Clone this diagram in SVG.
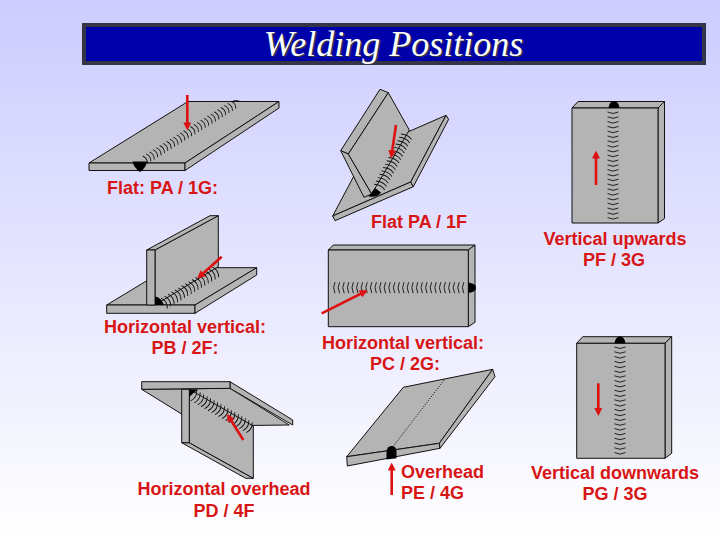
<svg xmlns="http://www.w3.org/2000/svg" width="720" height="540" viewBox="0 0 720 540">
<defs>
<linearGradient id="bg" x1="0" y1="0" x2="0" y2="1">
<stop offset="0" stop-color="#ccccff"/>
<stop offset="1" stop-color="#ffffff"/>
</linearGradient>
<marker id="ah" viewBox="0 0 10 10" refX="7" refY="5" markerWidth="8" markerHeight="8" markerUnits="userSpaceOnUse" orient="auto">
<path d="M0,0 L10,5 L0,10 z" fill="#dd1111"/>
</marker>
</defs>
<style>
.pl{fill:#b4b4b4;stroke:#111;stroke-width:1;stroke-linejoin:round}
.rp{fill:none;stroke:#111;stroke-width:0.9}
.bl{fill:#000}
.ar{stroke:#dd1111;stroke-width:2.6;fill:none;marker-end:url(#ah)}
.lb{font-family:"Liberation Sans",Arial,sans-serif;font-weight:bold;font-size:18px;fill:#d81515}
.mid{text-anchor:middle}
</style>
<rect x="0" y="0" width="720" height="540" fill="url(#bg)"/>

<g id="title">
<rect x="84" y="25" width="620" height="38" fill="#0000aa" stroke="#343446" stroke-width="4"/>
<text x="395" y="57" text-anchor="middle" font-family="'Liberation Serif','Times New Roman',serif" font-style="italic" font-size="36" fill="#333344">Welding Positions</text>
<text x="393.5" y="55.5" text-anchor="middle" font-family="'Liberation Serif','Times New Roman',serif" font-style="italic" font-size="36" fill="#ffffff">Welding Positions</text>
</g>

<g id="flat-1g">
<polygon class="pl" points="89,163 185,163 279,101.5 188,101.5"/>
<polygon class="pl" points="89,163 185,163 185,170.5 89,170.5"/>
<polygon class="pl" points="185,163 279,101.5 279,108 185,170.5"/>
<path class="rp" transform="translate(140,163) rotate(-31.8)" d="M6,-4.5 q3,4.5 0,9 m4,-9 q3,4.5 0,9 m4,-9 q3,4.5 0,9 m4,-9 q3,4.5 0,9 m4,-9 q3,4.5 0,9 m4,-9 q3,4.5 0,9 m4,-9 q3,4.5 0,9 m4,-9 q3,4.5 0,9 m4,-9 q3,4.5 0,9 m4,-9 q3,4.5 0,9 m4,-9 q3,4.5 0,9 m4,-9 q3,4.5 0,9 m4,-9 q3,4.5 0,9 m4,-9 q3,4.5 0,9 m4,-9 q3,4.5 0,9 m4,-9 q3,4.5 0,9 m4,-9 q3,4.5 0,9 m4,-9 q3,4.5 0,9 m4,-9 q3,4.5 0,9 m4,-9 q3,4.5 0,9 m4,-9 q3,4.5 0,9 m4,-9 q3,4.5 0,9 m4,-9 q3,4.5 0,9 m4,-9 q3,4.5 0,9 m4,-9 q3,4.5 0,9 m4,-9 q3,4.5 0,9 m4,-9 q3,4.5 0,9"/>
<path class="bl" d="M132.5,161.5 L147,161.5 Q146,168 140,172 Q134,168 132.5,161.5 Z"/>
<path class="bl" d="M231,101.5 Q236,99 241,101.5 Z"/>
<line class="ar" x1="187.3" y1="95" x2="187.3" y2="128"/>
<text class="lb" x="107" y="194">Flat: PA / 1G:</text>
</g>

<g id="flat-1f">
<polygon class="pl" points="332.7,216 410.7,182 446,115.3 368,149.3"/>
<polygon class="pl" points="332.7,216 410.7,182 413.3,186.7 335,220.7"/>
<polygon class="pl" points="410.7,182 446,115.3 448.7,119.3 413.3,186.7"/>
<polygon class="pl" points="340.7,150.7 380,89.3 388.3,92.7 348.3,154"/>
<polygon class="pl" points="340.7,150.7 348.3,154 371.7,194 364,197.3"/>
<polygon class="pl" points="348.3,154 388.3,92.7 409.3,130 371.7,194"/>
<path class="rp" transform="translate(374,191) rotate(-62)" d="M6,-3 q3,6 0,12 m3.8,-12 q3,6 0,12 m3.8,-12 q3,6 0,12 m3.8,-12 q3,6 0,12 m3.8,-12 q3,6 0,12 m3.8,-12 q3,6 0,12 m3.8,-12 q3,6 0,12 m3.8,-12 q3,6 0,12 m3.8,-12 q3,6 0,12 m3.8,-12 q3,6 0,12 m3.8,-12 q3,6 0,12 m3.8,-12 q3,6 0,12 m3.8,-12 q3,6 0,12 m3.8,-12 q3,6 0,12 m3.8,-12 q3,6 0,12 m3.8,-12 q3,6 0,12"/>
<path class="bl" d="M368.5,196.5 L375,188 L381,192.5 Q378,197.5 368.5,196.5 Z"/>
<line class="ar" x1="396" y1="125" x2="391.4" y2="156"/>
<text class="lb" x="371" y="228">Flat PA / 1F</text>
</g>

<g id="vertical-up-3g">
<polygon class="pl" points="572,108 578,101.5 664.5,101.5 658,108"/>
<polygon class="pl" points="658,108 664.5,101.5 664.5,218.5 658,223"/>
<rect class="pl" x="572" y="108" width="86" height="115"/>
<path class="rp" d="M607.5,112 q5.5,3 11,0 m-11,4.8 q5.5,3 11,0 m-11,4.8 q5.5,3 11,0 m-11,4.8 q5.5,3 11,0 m-11,4.8 q5.5,3 11,0 m-11,4.8 q5.5,3 11,0 m-11,4.8 q5.5,3 11,0 m-11,4.8 q5.5,3 11,0 m-11,4.8 q5.5,3 11,0 m-11,4.8 q5.5,3 11,0 m-11,4.8 q5.5,3 11,0 m-11,4.8 q5.5,3 11,0 m-11,4.8 q5.5,3 11,0 m-11,4.8 q5.5,3 11,0 m-11,4.8 q5.5,3 11,0 m-11,4.8 q5.5,3 11,0 m-11,4.8 q5.5,3 11,0 m-11,4.8 q5.5,3 11,0 m-11,4.8 q5.5,3 11,0 m-11,4.8 q5.5,3 11,0 m-11,4.8 q5.5,3 11,0 m-11,4.8 q5.5,3 11,0 m-11,4.8 q5.5,3 11,0"/>
<path class="bl" d="M608.5,108 Q609.5,101 614,101 Q618.5,101 619.5,108 Z"/>
<line class="ar" x1="596" y1="185" x2="596" y2="153"/>
<text class="lb mid" x="615" y="245">Vertical upwards</text>
<text class="lb mid" x="614" y="266">PF / 3G</text>
</g>

<g id="horizontal-2f">
<polygon class="pl" points="106.7,305 195,305 256.7,267.7 168.3,267.7"/>
<polygon class="pl" points="106.7,305 195,305 195,313.3 106.7,313.3"/>
<polygon class="pl" points="195,305 256.7,267.7 256.7,275 195,313.3"/>
<polygon class="pl" points="155,250 218.3,215.7 218.3,266.7 155,305"/>
<polygon class="pl" points="146.7,250 210,215.7 218.3,215.7 155,250"/>
<rect class="pl" x="146.7" y="250" width="8.3" height="55"/>
<path class="rp" transform="translate(157,303) rotate(-31.2)" d="M6,-2 q4,6 0,12 m4,-12 q4,6 0,12 m4,-12 q4,6 0,12 m4,-12 q4,6 0,12 m4,-12 q4,6 0,12 m4,-12 q4,6 0,12 m4,-12 q4,6 0,12 m4,-12 q4,6 0,12 m4,-12 q4,6 0,12 m4,-12 q4,6 0,12 m4,-12 q4,6 0,12 m4,-12 q4,6 0,12 m4,-12 q4,6 0,12 m4,-12 q4,6 0,12 m4,-12 q4,6 0,12 m4,-12 q4,6 0,12"/>
<path class="bl" d="M155,305 L155,296.5 Q161,297 164,305 Z"/>
<line class="ar" x1="221.7" y1="256.7" x2="199" y2="277"/>
<text class="lb mid" x="185" y="333">Horizontal vertical:</text>
<text class="lb mid" x="185" y="354">PB / 2F:</text>
</g>

<g id="horizontal-2g">
<polygon class="pl" points="328.3,250 333.3,245 475,245 468.3,250"/>
<polygon class="pl" points="468.3,250 475,245 475,322.3 468.3,326.7"/>
<rect class="pl" x="328.3" y="250" width="140" height="76.7"/>
<path class="rp" d="M335,282.2 q-2.8,5.5 0,11 m4.6,-11 q-2.8,5.5 0,11 m4.6,-11 q-2.8,5.5 0,11 m4.6,-11 q-2.8,5.5 0,11 m4.6,-11 q-2.8,5.5 0,11 m4.6,-11 q-2.8,5.5 0,11 m4.6,-11 q-2.8,5.5 0,11 m4.6,-11 q-2.8,5.5 0,11 m4.6,-11 q-2.8,5.5 0,11 m4.6,-11 q-2.8,5.5 0,11 m4.6,-11 q-2.8,5.5 0,11 m4.6,-11 q-2.8,5.5 0,11 m4.6,-11 q-2.8,5.5 0,11 m4.6,-11 q-2.8,5.5 0,11 m4.6,-11 q-2.8,5.5 0,11 m4.6,-11 q-2.8,5.5 0,11 m4.6,-11 q-2.8,5.5 0,11 m4.6,-11 q-2.8,5.5 0,11 m4.6,-11 q-2.8,5.5 0,11 m4.6,-11 q-2.8,5.5 0,11 m4.6,-11 q-2.8,5.5 0,11 m4.6,-11 q-2.8,5.5 0,11 m4.6,-11 q-2.8,5.5 0,11 m4.6,-11 q-2.8,5.5 0,11 m4.6,-11 q-2.8,5.5 0,11 m4.6,-11 q-2.8,5.5 0,11 m4.6,-11 q-2.8,5.5 0,11 m4.6,-11 q-2.8,5.5 0,11 m4.6,-11 q-2.8,5.5 0,11"/>
<path class="bl" d="M468.3,282.5 Q476,283.5 476,287.7 Q476,292 468.3,293 Z"/>
<line class="ar" x1="321.7" y1="313.3" x2="365.5" y2="291.4"/>
<text class="lb mid" x="403" y="349">Horizontal vertical:</text>
<text class="lb mid" x="405" y="370">PC / 2G:</text>
</g>

<g id="overhead-4f">
<polygon class="pl" points="141.7,389.3 230,388.3 289.3,425 201,426"/>
<polygon class="pl" points="230,381.7 292.7,420 292.7,425 230,388.3"/>
<polygon class="pl" points="141.7,381.7 230,381.7 230,388.3 141.7,389.3"/>
<polygon class="pl" points="181.7,442.7 189.3,442.7 253.3,478.3 245.7,478.3"/>
<polygon class="pl" points="189.3,389.3 253.3,426 253.3,478.3 189.3,442.7"/>
<rect class="pl" x="181.7" y="389.3" width="7.6" height="53.4"/>
<path class="rp" transform="translate(190,390) rotate(29.8)" d="M6,-3 q4,6 0,12 m4,-12 q4,6 0,12 m4,-12 q4,6 0,12 m4,-12 q4,6 0,12 m4,-12 q4,6 0,12 m4,-12 q4,6 0,12 m4,-12 q4,6 0,12 m4,-12 q4,6 0,12 m4,-12 q4,6 0,12 m4,-12 q4,6 0,12 m4,-12 q4,6 0,12 m4,-12 q4,6 0,12 m4,-12 q4,6 0,12 m4,-12 q4,6 0,12 m4,-12 q4,6 0,12 m4,-12 q4,6 0,12 m4,-12 q4,6 0,12"/>
<path class="bl" d="M189.3,389.3 L198.5,389.4 Q194,391.5 189.3,397 Z"/>
<line class="ar" x1="243.3" y1="440" x2="228.3" y2="416"/>
<text class="lb mid" x="224" y="495">Horizontal overhead</text>
<text class="lb mid" x="224" y="517">PD / 4F</text>
</g>

<g id="overhead-4g">
<polygon class="pl" points="346.7,456.7 439.3,443.3 492.7,369.3 403.3,387.3"/>
<polygon class="pl" points="346.7,456.7 439.3,443.3 440,448.3 347.3,466"/>
<polygon class="pl" points="439.3,443.3 492.7,369.3 495,376.7 440,448.3"/>
<line x1="390" y1="450.5" x2="445" y2="378.9" stroke="#222" stroke-width="1" stroke-dasharray="1.2 1.3"/>
<path class="bl" d="M386.5,452 Q387,446 391.5,446 Q396,446 396.5,451 L396.5,458.3 L386.5,459.5 Z"/>
<line class="ar" x1="391.7" y1="495" x2="391.7" y2="465"/>
<text class="lb" x="401" y="478">Overhead</text>
<text class="lb" x="401" y="499">PE / 4G</text>
</g>

<g id="vertical-down-3g">
<polygon class="pl" points="576.7,343.3 582.7,336.7 671.7,336.7 665,343.3"/>
<polygon class="pl" points="665,343.3 671.7,336.7 671.7,453.3 665,458.3"/>
<rect class="pl" x="576.7" y="343.3" width="88.3" height="115"/>
<path class="rp" d="M614.5,347 q5.5,3 11,0 m-11,4.8 q5.5,3 11,0 m-11,4.8 q5.5,3 11,0 m-11,4.8 q5.5,3 11,0 m-11,4.8 q5.5,3 11,0 m-11,4.8 q5.5,3 11,0 m-11,4.8 q5.5,3 11,0 m-11,4.8 q5.5,3 11,0 m-11,4.8 q5.5,3 11,0 m-11,4.8 q5.5,3 11,0 m-11,4.8 q5.5,3 11,0 m-11,4.8 q5.5,3 11,0 m-11,4.8 q5.5,3 11,0 m-11,4.8 q5.5,3 11,0 m-11,4.8 q5.5,3 11,0 m-11,4.8 q5.5,3 11,0 m-11,4.8 q5.5,3 11,0 m-11,4.8 q5.5,3 11,0 m-11,4.8 q5.5,3 11,0 m-11,4.8 q5.5,3 11,0 m-11,4.8 q5.5,3 11,0 m-11,4.8 q5.5,3 11,0 m-11,4.8 q5.5,3 11,0"/>
<path class="bl" d="M614.5,343.3 Q615.5,336.5 620,336.5 Q624.5,336.5 625.5,343.3 Z"/>
<line class="ar" x1="598.3" y1="383.3" x2="598.3" y2="413.5"/>
<text class="lb mid" x="615" y="479">Vertical downwards</text>
<text class="lb mid" x="615" y="500">PG / 3G</text>
</g>
</svg>
